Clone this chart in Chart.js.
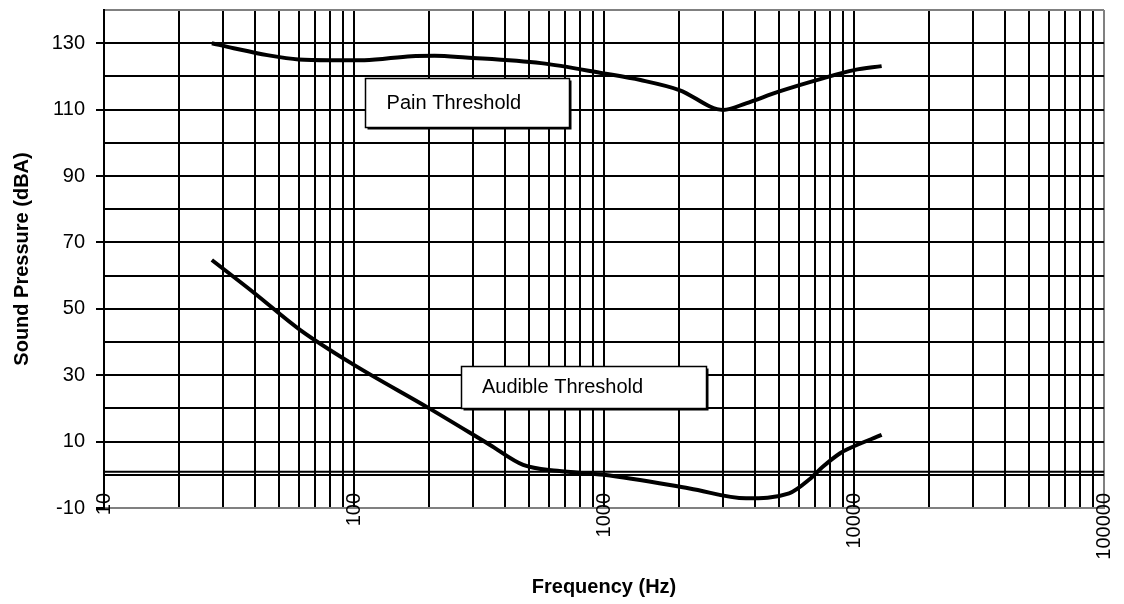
<!DOCTYPE html>
<html>
<head>
<meta charset="utf-8">
<script src="https://cdn.jsdelivr.net/npm/chart.js@4.4.1/dist/chart.umd.min.js"></script>
<style>
  html, body { margin: 0; padding: 0; background: #fff; }
  #wrap { width: 1124px; height: 604px; }
</style>
</head>
<body>
<div id="wrap"><canvas id="soundChart" width="1124" height="604"></canvas></div>
<script>
// data
const painFreq = [27, 33, 45, 60, 80, 110, 170, 210, 280, 560, 1000, 1400, 2000, 3000, 3700, 5000, 7500, 10000, 12900];
const painDb   = [130, 128.5, 126.4, 125.1, 124.9, 124.9, 126.1, 126.2, 125.7, 124, 120.9, 118.9, 115.9, 109.9, 111.9, 115.4, 119.4, 121.9, 123.1];

const audibleFreq = [27, 40, 61, 100, 200, 350, 475, 650, 1000, 2200, 3700, 5500, 6700, 7500, 8800, 9600, 12900];
const audibleDb   = [64.7, 54.7, 43.6, 33.1, 20.0, 9.0, 3.0, 1.2, 0, -4.1, -7.1, -5.6, -1.1, 2.4, 6.5, 8.0, 12.0];

const decadeTicks = [10, 100, 1000, 10000, 100000];
const yLabelTicks = [-10, 10, 30, 50, 70, 90, 110, 130];

// text boxes, in data units: [text, xLeft, xRight, yTop, yBottom, textX]
const boxes = [
    ['Pain Threshold', 111, 724, 119.5, 104.8, 135],
    ['Audible Threshold', 268, 2559, 32.8, 20.1, 325]
];

const FONT = 'Liberation Sans, Arial, sans-serif';

const toPoints = (xs, ys) => xs.map((x, i) => ({ x: x, y: ys[i] }));

// all 1..9 gridlines inside each decade
const allXTicks = [];
decadeTicks.forEach((d, i) => {
    if (i === decadeTicks.length - 1) { allXTicks.push(d); return; }
    for (let m = 1; m <= 9; m++) allXTicks.push(d * m);
});

const boxPlugin = {
    id: 'boxes',
    beforeDatasetsDraw(chart) {
        // second line just above zero, like the original's axis line
        const { ctx, chartArea, scales: { y } } = chart;
        const y0 = y.getPixelForValue(0) - 3;
        ctx.save();
        ctx.strokeStyle = '#000';
        ctx.lineWidth = 2;
        ctx.beginPath();
        ctx.moveTo(chartArea.left, y0);
        ctx.lineTo(chartArea.right, y0);
        ctx.stroke();
        ctx.restore();
    },
    afterDatasetsDraw(chart) {
        const { ctx, scales: { x, y } } = chart;
        ctx.save();
        boxes.forEach(b => {
            const l = Math.round(x.getPixelForValue(b[1])) + 0.5;
            const r = Math.round(x.getPixelForValue(b[2])) + 0.5;
            const t = Math.round(y.getPixelForValue(b[3])) + 0.5;
            const btm = Math.round(y.getPixelForValue(b[4])) + 0.5;
            ctx.fillStyle = '#000';
            ctx.fillRect(l + 2, t + 2, r - l, btm - t);
            ctx.fillStyle = '#fff';
            ctx.fillRect(l, t, r - l, btm - t);
            ctx.strokeStyle = '#000';
            ctx.lineWidth = 1.5;
            ctx.strokeRect(l, t, r - l, btm - t);
            ctx.fillStyle = '#000';
            ctx.font = '20px ' + FONT;
            ctx.textBaseline = 'middle';
            ctx.textAlign = 'left';
            ctx.fillText(b[0], x.getPixelForValue(b[5]), (t + btm) / 2);
        });
        ctx.restore();
    },
    afterDraw(chart) {
        // decade labels, rotated, overlapping the bottom of the plot like the original
        const { ctx, chartArea, scales: { x } } = chart;
        ctx.save();
        ctx.fillStyle = '#000';
        ctx.font = '20px ' + FONT;
        ctx.textAlign = 'right';
        ctx.textBaseline = 'middle';
        decadeTicks.forEach(v => {
            ctx.save();
            ctx.translate(x.getPixelForValue(v), chartArea.bottom - 15);
            ctx.rotate(-Math.PI / 2);
            ctx.fillText(String(v), 0, 0);
            ctx.restore();
        });
        ctx.restore();
    }
};

new Chart(document.getElementById('soundChart'), {
    type: 'line',
    data: {
        datasets: [
            {
                label: 'Pain Threshold',
                data: toPoints(painFreq, painDb),
                borderColor: '#000', borderWidth: 4,
                pointRadius: 0, cubicInterpolationMode: 'monotone', fill: false
            },
            {
                label: 'Audible Threshold',
                data: toPoints(audibleFreq, audibleDb),
                borderColor: '#000', borderWidth: 4,
                pointRadius: 0, cubicInterpolationMode: 'monotone', fill: false
            }
        ]
    },
    plugins: [boxPlugin],
    options: {
        responsive: false, animation: false,
        layout: { padding: { left: 0, right: 20, top: 0, bottom: 5 } },
        plugins: { legend: { display: false }, tooltip: { enabled: false } },
        scales: {
            x: {
                type: 'logarithmic', min: 10, max: 100000,
                afterBuildTicks: s => { s.ticks = allXTicks.map(v => ({ value: v })); },
                afterFit: s => { s.height = 91; },
                grid: {
                    drawTicks: false, lineWidth: 2,
                    color: c => (c.tick && c.tick.value === 100000) ? '#808080' : '#000'
                },
                border: { color: '#808080', width: 2 },
                ticks: { display: false, autoSkip: false },
                title: {
                    display: true, text: 'Frequency (Hz)', color: '#000',
                    font: { family: FONT, size: 20, weight: 'bold' },
                    padding: { top: 0, bottom: 0 }
                }
            },
            y: {
                min: -10, max: 140,
                ticks: {
                    stepSize: 10, padding: 0, color: '#000',
                    font: { family: FONT, size: 20, lineHeight: 1 },
                    callback: v => yLabelTicks.includes(v) ? String(v) : ''
                },
                afterFit: s => { s.width = 104; },
                grid: {
                    lineWidth: 2, tickLength: 19,
                    // only the 7px next to the axis is drawn, the rest is label gap
                    tickBorderDash: [7, 11], tickBorderDashOffset: 7,
                    color: c => (c.tick && c.tick.value === 140) ? '#808080' : '#000',
                    tickColor: c => (c.tick && yLabelTicks.includes(c.tick.value)) ? '#000' : 'rgba(0,0,0,0)'
                },
                border: { color: '#000', width: 2 },
                title: {
                    display: true, text: 'Sound Pressure (dBA)', color: '#000',
                    font: { family: FONT, size: 20, weight: 'bold' },
                    padding: { top: 10, bottom: 0 }
                }
            }
        }
    }
});
</script>
</body>
</html>
